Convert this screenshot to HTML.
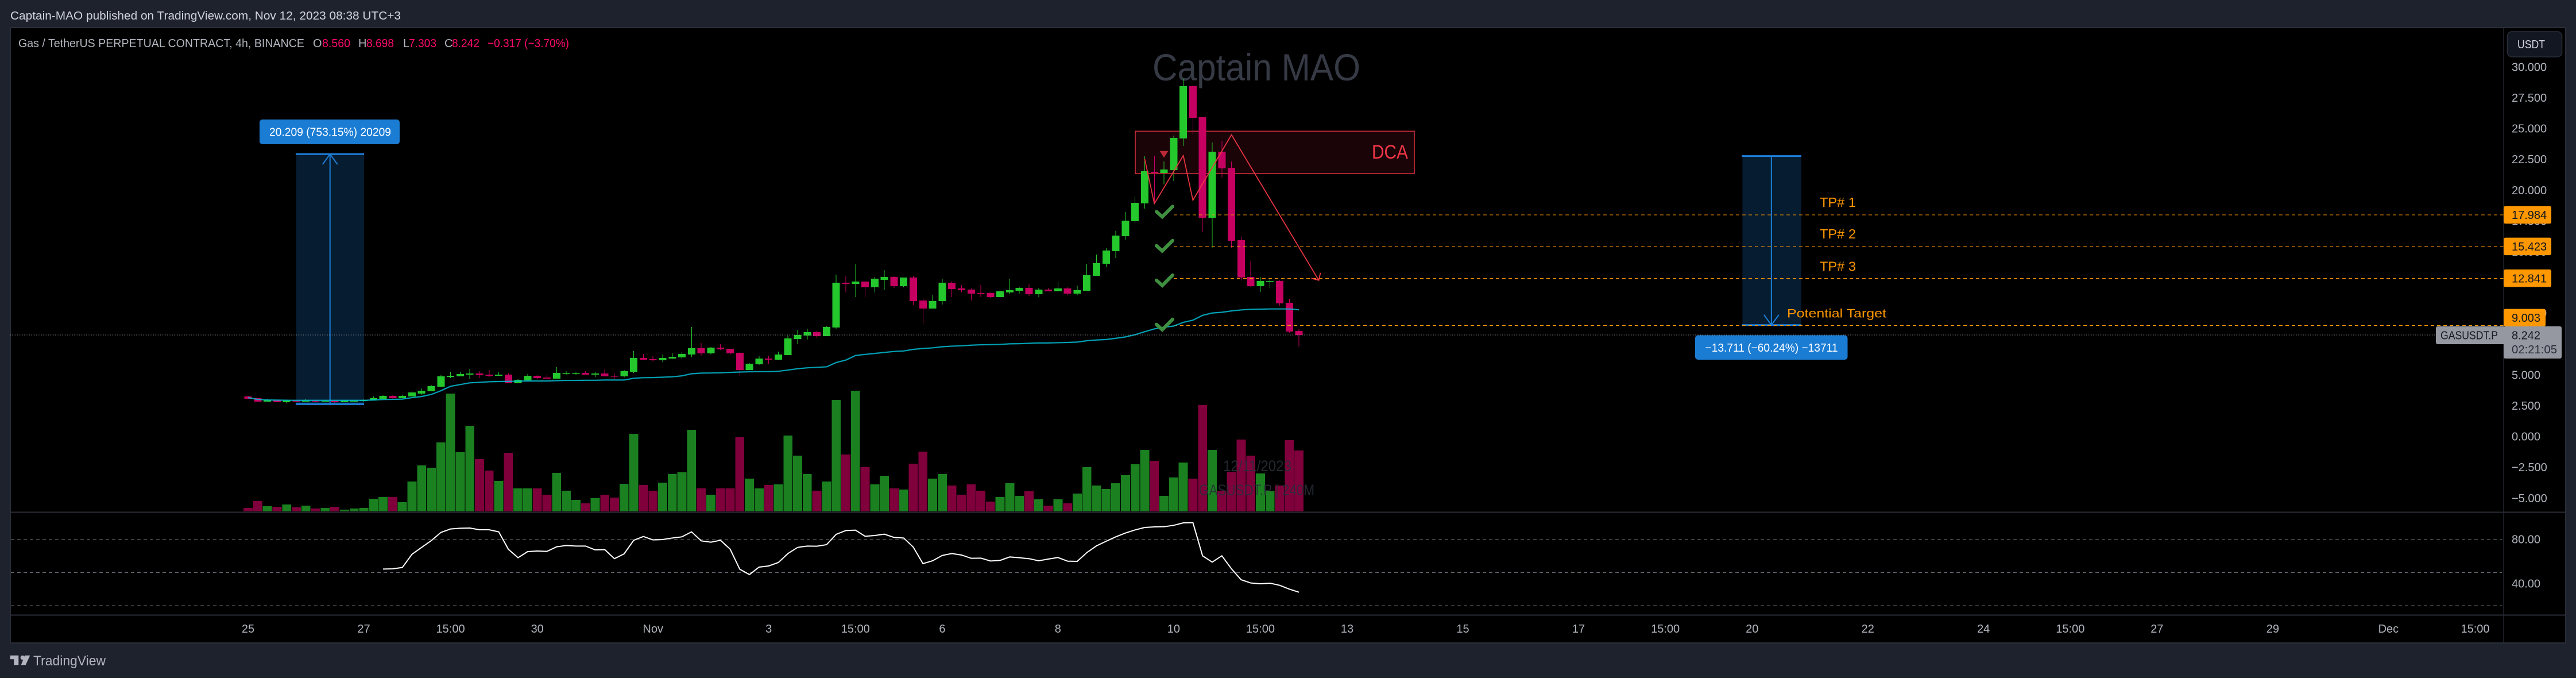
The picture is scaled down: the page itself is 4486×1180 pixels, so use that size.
<!DOCTYPE html>
<html lang="en">
<head>
<meta charset="utf-8">
<title>GASUSDT.P chart by Captain-MAO</title>
<style>
html,body{margin:0;padding:0;width:4486px;height:1180px;overflow:hidden;background:#1e222d;}
svg{display:block;font-family:"Liberation Sans",sans-serif;}
.crisp{shape-rendering:crispEdges;}
</style>
</head>
<body>
<svg id="chart" xmlns="http://www.w3.org/2000/svg" width="4486" height="1180" viewBox="0 0 4486 1180">
  <rect x="0" y="0" width="4486" height="1180" fill="#1e222d"/>
  <text x="18" y="34" font-size="20" fill="#d1d4dc" textLength="680" lengthAdjust="spacingAndGlyphs">Captain-MAO published on TradingView.com, Nov 12, 2023 08:38 UTC+3</text>
  <rect class="crisp" x="18" y="48" width="4450" height="1071" fill="#000" stroke="#2a2e39" stroke-width="2"/>

  <text x="2007" y="140" font-size="66" fill="#363a45" textLength="362" lengthAdjust="spacingAndGlyphs">Captain MAO</text>

  <g id="layer-back"></g>
  <g id="layer-volume"></g>
  <g fill="#2a2e39" opacity="0.85">
    <text x="2130" y="820" font-size="27" textLength="119" lengthAdjust="spacingAndGlyphs">12/11/2023</text>
    <text x="2088" y="862" font-size="27" textLength="201" lengthAdjust="spacingAndGlyphs">GASUSDT.P | 240M</text>
  </g>
  <g id="layer-candles"></g>
  <g id="layer-front"></g>

  <text x="32" y="82" font-size="20" fill="#b2b5be" textLength="498" lengthAdjust="spacingAndGlyphs">Gas / TetherUS PERPETUAL CONTRACT, 4h, BINANCE</text>
  <g font-size="20">
    <text x="545" y="82" fill="#b2b5be">O</text>
    <text x="561" y="82" fill="#ff0a6c" textLength="49" lengthAdjust="spacingAndGlyphs">8.560</text>
    <text x="624" y="82" fill="#b2b5be">H</text>
    <text x="638" y="82" fill="#ff0a6c" textLength="48" lengthAdjust="spacingAndGlyphs">8.698</text>
    <text x="702" y="82" fill="#b2b5be">L</text>
    <text x="712" y="82" fill="#ff0a6c" textLength="48" lengthAdjust="spacingAndGlyphs">7.303</text>
    <text x="774" y="82" fill="#b2b5be">C</text>
    <text x="787" y="82" fill="#ff0a6c" textLength="48" lengthAdjust="spacingAndGlyphs">8.242</text>
    <text x="849" y="82" fill="#ff0a6c" textLength="142" lengthAdjust="spacingAndGlyphs">−0.317 (−3.70%)</text>
  </g>

  <g id="layer-axes"></g>

  <g id="layer-labels" font-size="20"></g>

  <g>
    <rect x="4242" y="568" width="120" height="31" rx="3" fill="#9598a1"/>
    <text x="4250" y="590.5" font-size="20" fill="#131722" textLength="100" lengthAdjust="spacingAndGlyphs">GASUSDT.P</text>
    <rect x="4360" y="568" width="101" height="56" rx="3" fill="#9598a1"/>
    <text x="4374" y="590.5" font-size="20" fill="#131722">8.242</text>
    <text x="4374" y="615" font-size="20" fill="#2a2e39" textLength="79" lengthAdjust="spacingAndGlyphs">02:21:05</text>
  </g>

  <g>
    <rect x="4366.5" y="55" width="95" height="44" rx="8" fill="#131722" stroke="#2a2e39" stroke-width="1.5"/>
    <text x="4384" y="84" font-size="20" fill="#d1d4dc" textLength="48" lengthAdjust="spacingAndGlyphs">USDT</text>
  </g>

  <g fill="#b2b5be">
    <polygon points="17.7,1140.7 32.3,1140.7 32.3,1157.3 24.3,1157.3 24.3,1147.3 17.7,1147.3"/>
    <circle cx="39.3" cy="1144.5" r="3.7"/>
    <polygon points="43.3,1140.7 52.3,1140.7 44.7,1157.3 36.7,1157.3"/>
    <text x="58" y="1158" font-size="24" textLength="126" lengthAdjust="spacingAndGlyphs">TradingView</text>
  </g>
</svg>
<script>
const opens = [3.242,3.102,2.822,2.962,2.776,2.916,2.822,2.916,2.822,2.869,2.776,2.822,2.869,2.916,3.056,3.289,3.102,3.242,3.475,3.662,4.035,4.828,4.875,5.015,5.108,5.015,4.921,5.015,4.315,4.548,4.921,4.781,4.688,5.108,5.108,5.155,5.015,5.108,4.921,4.875,5.248,6.367,6.274,6.181,6.320,6.414,6.647,7.160,6.740,7.207,7.113,6.787,5.388,5.854,6.320,6.227,6.600,7.906,8.186,8.466,8.139,8.839,12.477,12.384,12.570,12.104,12.710,12.943,12.197,12.897,11.031,10.378,10.985,12.477,12.011,11.917,11.637,11.637,11.311,11.684,11.824,12.057,11.544,11.917,11.777,12.011,11.591,11.824,13.036,14.016,15.042,16.255,17.467,18.913,21.479,21.385,21.618,24.184,28.428,25.909,17.747,23.111,21.805,15.928,12.943,12.197,12.570,12.617,10.845,8.560];
const highs = [3.304,3.149,3.056,2.962,2.962,2.962,3.056,2.916,2.931,2.962,2.962,2.962,3.009,3.242,3.335,3.335,3.335,3.662,3.895,4.175,4.968,5.248,5.248,5.481,5.294,5.388,5.201,5.108,4.641,5.061,4.968,5.061,5.621,5.294,5.201,5.294,5.248,5.434,5.108,5.388,6.927,6.693,6.554,6.647,6.740,6.833,8.886,7.580,7.253,7.486,7.113,6.833,5.947,6.507,6.507,6.880,8.186,8.652,8.746,8.559,8.932,13.130,12.990,13.970,12.570,12.943,13.503,12.990,12.897,13.037,11.218,11.451,12.757,12.570,12.290,12.011,12.290,11.684,11.917,12.803,12.150,12.337,12.057,12.057,12.524,12.104,12.244,14.016,14.762,15.275,16.675,18.214,19.473,22.738,22.784,22.318,24.417,29.034,28.521,25.909,23.857,23.997,22.318,16.208,14.202,12.943,12.850,12.663,11.171,8.698];
const lows = [3.025,2.776,2.822,2.776,2.682,2.807,2.822,2.776,2.822,2.682,2.776,2.822,2.822,2.916,3.056,3.056,3.102,3.242,3.382,3.662,3.988,4.735,4.875,4.641,4.735,4.828,4.921,4.315,4.315,4.548,4.641,4.688,4.688,5.015,5.015,5.015,4.828,4.875,4.688,4.781,5.155,6.181,6.103,6.040,6.274,6.274,6.461,6.554,6.647,7.020,6.647,4.921,5.388,5.807,5.900,6.181,6.600,7.486,7.860,7.999,8.139,8.746,11.684,11.311,11.311,11.684,11.871,12.057,12.104,10.658,9.165,10.378,10.705,11.311,11.684,11.031,11.311,11.218,11.265,11.544,11.591,11.404,11.311,11.777,11.777,11.498,11.451,11.824,13.036,13.736,14.482,15.975,17.327,18.493,18.867,20.452,20.732,23.577,24.510,16.581,15.322,21.012,15.322,12.663,12.150,11.730,12.011,10.611,8.419,7.303];
const closes = [3.056,2.822,2.962,2.776,2.916,2.822,2.916,2.822,2.885,2.776,2.916,2.916,2.962,3.102,3.289,3.102,3.289,3.569,3.709,4.082,4.875,4.921,5.061,5.108,4.968,4.921,5.015,4.315,4.595,4.921,4.735,4.688,5.155,5.155,5.155,5.015,5.108,4.875,4.875,5.294,6.367,6.227,6.181,6.367,6.461,6.693,7.160,6.740,7.207,7.067,6.740,5.388,5.900,6.320,6.227,6.647,7.953,8.233,8.466,8.139,8.886,12.477,12.384,12.570,12.104,12.803,12.943,12.197,12.897,10.985,10.378,10.985,12.477,11.964,11.871,11.591,11.591,11.311,11.777,11.871,12.057,11.544,11.917,11.777,12.011,11.591,11.871,13.083,14.062,15.089,16.301,17.514,18.960,21.525,21.385,21.665,24.230,28.428,25.863,17.747,23.111,21.758,15.882,12.896,12.197,12.617,12.617,10.798,8.512,8.242];
const volumes = [12,36,18,16,24,14,20,10,12,16,6,10,12,44,50,50,32,104,160,152,240,410,206,298,182,142,106,204,80,80,80,58,134,72,40,28,46,58,48,96,270,92,72,100,130,136,284,80,58,80,80,258,114,80,92,94,264,194,130,72,104,388,198,420,154,94,124,80,76,166,208,114,130,90,58,94,72,34,50,98,54,70,42,20,42,28,62,154,90,78,98,126,164,214,176,54,118,170,114,370,214,72,138,250,194,132,70,90,248,212];
const maValues = [3.15,3.01,2.96,2.95,2.94,2.93,2.93,2.93,2.93,2.93,2.93,2.93,2.93,2.96,3.00,3.01,3.03,3.15,3.24,3.41,3.71,4.07,4.21,4.35,4.39,4.44,4.46,4.47,4.49,4.50,4.50,4.50,4.53,4.55,4.55,4.56,4.56,4.58,4.58,4.58,4.72,4.77,4.78,4.81,4.84,4.92,5.09,5.14,5.15,5.17,5.20,5.23,5.25,5.26,5.26,5.29,5.39,5.50,5.57,5.61,5.65,6.00,6.20,6.57,6.66,6.74,6.82,6.90,6.94,7.07,7.14,7.19,7.28,7.33,7.36,7.41,7.44,7.45,7.47,7.52,7.53,7.56,7.59,7.59,7.61,7.63,7.66,7.77,7.83,7.87,7.97,8.08,8.26,8.50,8.73,8.87,8.96,9.26,9.44,9.83,10.02,10.08,10.19,10.27,10.32,10.33,10.35,10.35,10.35,10.28];
const rsiValues = [null,null,null,null,null,null,null,null,null,null,null,null,null,null,53.07,53.25,54.46,66.41,72.64,78.70,86.15,89.27,89.96,90.13,88.57,88.57,86.67,70.91,63.29,68.83,69.35,69.00,73.16,74.37,73.85,73.85,70.39,70.56,62.43,66.75,79.05,82.51,79.39,79.74,81.13,82.17,86.67,78.53,77.32,79.05,71.08,52.90,48.05,54.81,55.85,58.96,67.10,72.64,73.85,73.68,75.07,84.42,87.88,88.23,82.69,83.38,84.59,81.65,81.13,72.82,57.92,60.52,65.37,67.10,65.72,62.77,62.95,60.35,60.87,63.99,63.29,62.43,60.52,62.08,63.47,60.18,60.00,67.97,74.03,78.19,82.17,85.63,88.40,90.65,91.17,91.35,92.56,94.81,94.98,65.02,59.31,65.02,53.25,43.38,40.44,39.75,40.27,38.36,34.90,32.13];
const priceTicks = [30,27.5,25,22.5,20,17.5,15,12.5,10,7.5,5,2.5,0,-2.5,-5];
const rsiTicks = [80,40];
const rsiLevels = [80,50,20];
const timeLabels = ["25","27","15:00","30","Nov","3","15:00","6","8","10","15:00","13","15","17","15:00","20","22","24","15:00","27","29","Dec","15:00"];
const timeBars = [0,12,21,30,42,54,63,72,84,96,105,114,126,138,147,156,168,180,189,198,210,222,231];
const tpLevels = [17.984,15.423,12.841,9.003];
const tpNames = ["TP# 1","TP# 2","TP# 3","Potential Target"];
const tpNameOffsets = [21,21,20,21];
const lastPrice = 8.242;
const dcaZone = [24.78,21.33];
const zigzagBars = [93,94,97,98,102,111.05];
const zigzagPrices = [22.52,18.90,22.80,19.18,24.49,12.68];
const checkPrices = [18.2,15.43,12.63,9.04];

const SVGNS = "http://www.w3.org/2000/svg";
const xAt = i => 432 + 16.79 * i;
const yPrice = p => 759.6 - 21.44 * p;
const yVol = v => 890 - v * 0.5;
const yRsi = v => 1015.5 - (v - 40) * 1.925;
const fmtNum = (v, d) => (v < 0 ? "\u2212" : "") + Math.abs(v).toFixed(d);

function mk(parent, tag, attrs, text) {
  const el = document.createElementNS(SVGNS, tag);
  for (const k in attrs) el.setAttribute(k, attrs[k]);
  if (text !== undefined) el.textContent = text;
  parent.appendChild(el);
  return el;
}
const back = document.getElementById("layer-back");
const volLayer = document.getElementById("layer-volume");
const candleLayer = document.getElementById("layer-candles");
const front = document.getElementById("layer-front");
const axes = document.getElementById("layer-axes");
const labels = document.getElementById("layer-labels");

/* DCA zone */
const dcaRect = mk(back, "rect", {x:1977, y:yPrice(dcaZone[0]), width:486, height:yPrice(dcaZone[1])-yPrice(dcaZone[0]), fill:"#1a0408", stroke:"#f23645", "stroke-width":1.5, "stroke-opacity":0.9});


const dcaText = mk(back, "text", {x:2389, y:276, "font-size":34, fill:"#f23645", textLength:63, lengthAdjust:"spacingAndGlyphs"}, "DCA");



/* Measure tools */
function measure(barFrom, barTo, barMid, pFrom, pTo, name) {
  const top = yPrice(Math.max(pFrom, pTo)), bot = yPrice(Math.min(pFrom, pTo));
  const box = mk(back, "rect", {x:xAt(barFrom), y:top, width:xAt(barTo)-xAt(barFrom), height:bot-top, fill:"#061c30"});
  
  
  const g = mk(front, "g", {stroke:"#1e80db", fill:"none"});
  
  
  const m = xAt(barMid);
  const tipY = yPrice(pTo), dir = pTo > pFrom ? 1 : -1;
  mk(g, "line", {x1:m, y1:yPrice(pFrom), x2:m, y2:tipY, "stroke-width":2});
  mk(g, "polyline", {points:(m-13)+","+(tipY+dir*18)+" "+m+","+tipY+" "+(m+13)+","+(tipY+dir*18), "stroke-width":2});
  mk(g, "line", {x1:xAt(barFrom)-1, y1:top, x2:xAt(barTo), y2:top, "stroke-width":3});
  mk(g, "line", {x1:xAt(barFrom)-1, y1:bot, x2:xAt(barTo), y2:bot, "stroke-width":3});
}
measure(5, 12.03, 8.5, 2.62, 22.92, "rally-measure");
measure(155, 161.1, 158, 22.76, 9.04, "target-measure");

/* Volume bars */
volumes.forEach((v, i) => {
  const up = closes[i] >= opens[i];
  const bar = mk(volLayer, "rect", {class:"crisp", x:xAt(i)-7.9, y:yVol(v), width:15.8, height:890-yVol(v), fill: up ? "#1a8020" : "#80003c"});
  
  
});

/* Candles */
opens.forEach((o, i) => {
  const c = closes[i], up = c >= o, col = up ? "#24c82d" : "#c50060";
  const g = mk(candleLayer, "g", {fill:col});
  
  
  const x = xAt(i);
  mk(g, "rect", {class:"crisp", x:x-0.5, y:yPrice(highs[i]), width:1, height:yPrice(lows[i])-yPrice(highs[i])});
  const t = yPrice(Math.max(o, c)), b = yPrice(Math.min(o, c));
  mk(g, "rect", {class:"crisp", x:x-6.5, y:t, width:13, height:Math.max(1.5, b-t)});
});

/* TP dashed lines */
tpLevels.forEach((p, i) => {
  const y = yPrice(p);
  const ln = mk(front, "line", {class:"crisp", x1:2044, y1:y, x2:4360, y2:y, stroke:"#ff9800", "stroke-width":1, "stroke-dasharray":"6 5"});
  
  
  const big = i < 3;
  const tx = mk(front, "text", {x: big ? 3169 : 3112, y: y - tpNameOffsets[i] + (big ? 7 : 7), "font-size": big ? 23 : 21, fill:"#ff9800"}, tpNames[i]);
  tx.setAttribute('textLength', big ? 63 : 173);
  tx.setAttribute('lengthAdjust', 'spacingAndGlyphs');
  
  
});

/* MA line */
const maLine = mk(front, "polyline", {points:maValues.map((v,i)=>xAt(i)+","+yPrice(v)).join(" "), fill:"none", stroke:"#00bcd4", "stroke-width":2.2, "stroke-opacity":0.85});



/* Zigzag projection */
const zig = mk(front, "polyline", {points:zigzagBars.map((b,i)=>xAt(b)+","+yPrice(zigzagPrices[i])).join(" "), fill:"none", stroke:"#f23645", "stroke-width":1.8, "stroke-opacity":0.95});


const tipX = xAt(zigzagBars[5]), tipY = yPrice(zigzagPrices[5]);
const head = mk(front, "polyline", {points:(tipX-13)+","+(tipY-3.5)+" "+tipX+","+tipY+" "+(tipX+3)+","+(tipY-13), fill:"none", stroke:"#f23645", "stroke-width":1.8});


const tri = mk(front, "polygon", {points:"2019.5,262.7 2034.5,262.7 2027,274.5", fill:"#f23645", "fill-opacity":0.75});



/* Check marks */
checkPrices.forEach(p => {
  const x = xAt(94.7), y = yPrice(p);
  const chk = mk(front, "polyline", {points:(x-8)+","+(y-1)+" "+(x+2)+","+(y+8)+" "+(x+20)+","+(y-10), fill:"none", stroke:"#3f8f40", "stroke-width":6, "stroke-linecap":"round", "stroke-linejoin":"miter"});
  
  
});

/* Measure labels */
function pill(x, y, w, h, cx, txt, tw, name) {
  const r = mk(front, "rect", {x:x, y:y, width:w, height:h, rx:5, fill:"#1b7cd3"});
  
  
  const t = mk(front, "text", {x:cx-tw/2, y:y+h/2+7, "font-size":20, fill:"#fff", textLength:tw, lengthAdjust:"spacingAndGlyphs"}, txt);
  
  
}
pill(452, 208, 244, 43, 575, "20.209 (753.15%) 20209", 212, "rally-measure-label");
pill(2952, 583.5, 265.5, 42.5, 3085, "\u221213.711 (\u221260.24%) \u221213711", 231, "target-measure-label");

/* Last price dotted line */
const lastLine = mk(axes, "line", {class:"crisp", x1:18, y1:yPrice(lastPrice), x2:4240, y2:yPrice(lastPrice), stroke:"#b2b5be", "stroke-width":1, "stroke-opacity":0.8, "stroke-dasharray":"1 2"});



/* RSI pane */
rsiLevels.forEach(v => {
  const lv = mk(axes, "line", {class:"crisp", x1:19, y1:yRsi(v), x2:4357, y2:yRsi(v), stroke:"#787b86", "stroke-width":1, "stroke-opacity":0.85, "stroke-dasharray":"6 5"});
  
  
});
let rsiPts = [];
rsiValues.forEach((v, i) => { if (v !== null) rsiPts.push(xAt(i) + "," + yRsi(v)); });
const rsiLine = mk(axes, "polyline", {points:rsiPts.join(" "), fill:"none", stroke:"#ffffff", "stroke-width":2});



/* Pane dividers */
const paneSep = mk(axes, "line", {class:"crisp", x1:18, y1:891.5, x2:4468, y2:891.5, stroke:"#2a2e39", "stroke-width":2});


const timeSep = mk(axes, "line", {class:"crisp", x1:18, y1:1070.5, x2:4468, y2:1070.5, stroke:"#2a2e39", "stroke-width":2});


const priceSep = mk(axes, "line", {class:"crisp", x1:4360, y1:48, x2:4360, y2:1118, stroke:"#2a2e39", "stroke-width":1.5});



/* Axis ticks */
priceTicks.forEach(p => {
  const t = mk(axes, "text", {x:4374, y:yPrice(p)+7, "font-size":20, fill:"#b2b5be"}, fmtNum(p, 3));
  
  
});
rsiTicks.forEach(v => {
  const t = mk(axes, "text", {x:4374, y:yRsi(v)+7, "font-size":20, fill:"#b2b5be"}, fmtNum(v, 2));
  
  
});
timeLabels.forEach((s, i) => {
  const t = mk(axes, "text", {x:xAt(timeBars[i]), y:1101, "font-size":20, fill:"#b2b5be", "text-anchor":"middle"}, s);
  
  
});

/* TP price tags */
tpLevels.forEach((p, i) => {
  const w = i < 3 ? 83 : 73;
  const y = yPrice(p);
  const top = i < 3 ? y - 15.3 : y - 29;
  const r = mk(labels, "rect", {x:4360, y:top, width:w, height:30.5, rx:3, fill:"#ff9800"});
  
  
  const t = mk(labels, "text", {x:4374, y:top+22.3, fill:"#131722"}, p.toFixed(3));
  
  
});
</script>
</body>
</html>
